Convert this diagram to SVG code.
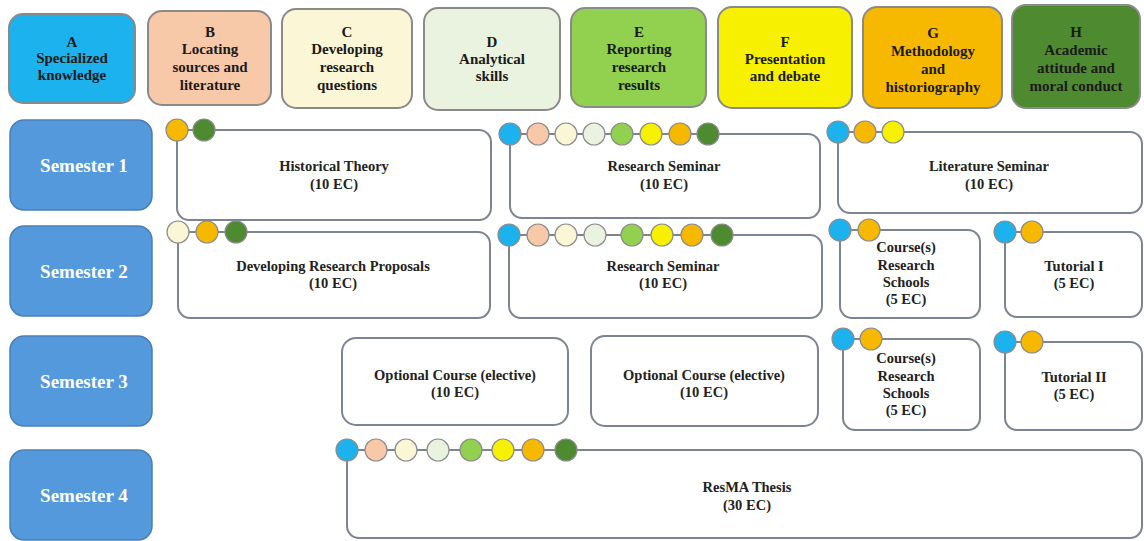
<svg xmlns="http://www.w3.org/2000/svg" width="1144" height="541" viewBox="0 0 1144 541">
<style>
.hdr{stroke:#8a8a8a;stroke-width:2}
.ht{font-family:"Liberation Serif",serif;font-weight:bold;font-size:15px;fill:#1a1a1a;text-anchor:middle}
.sem{fill:#5599dd;stroke:#4a7fb5;stroke-width:1.5}
.st{font-family:"Liberation Serif",serif;font-weight:bold;font-size:19px;fill:#ffffff;text-anchor:middle}
.crs{fill:#ffffff;stroke:#7d8494;stroke-width:2}
.ct{font-family:"Liberation Serif",serif;font-weight:bold;font-size:14.5px;fill:#222222;text-anchor:middle}
.d{stroke:#8c8c8c;stroke-width:1.2}
.cA{fill:#1cb2ee}.cB{fill:#f7c9a9}.cC{fill:#fbf6d5}.cD{fill:#e9f3e0}
.cE{fill:#92d050}.cF{fill:#f7f000}.cG{fill:#f7b900}.cH{fill:#4e8a2f}
</style>
<rect width="1144" height="541" fill="#ffffff"/>

<g id="header-A"><rect class="hdr cA" x="9" y="14" width="126" height="89" rx="14"/>
<text class="ht" x="72" y="47">A</text><text class="ht" x="72" y="63">Specialized</text><text class="ht" x="72" y="80">knowledge</text></g>
<g id="header-B"><rect class="hdr cB" x="148" y="11" width="123" height="94" rx="14"/>
<text class="ht" x="210" y="37">B</text><text class="ht" x="210" y="54">Locating</text><text class="ht" x="210" y="72">sources and</text><text class="ht" x="210" y="90">literature</text></g>
<g id="header-C"><rect class="hdr cC" x="282" y="9" width="130" height="99" rx="14"/>
<text class="ht" x="347" y="37">C</text><text class="ht" x="347" y="54">Developing</text><text class="ht" x="347" y="72">research</text><text class="ht" x="347" y="90">questions</text></g>
<g id="header-D"><rect class="hdr cD" x="424" y="8" width="136" height="102" rx="14"/>
<text class="ht" x="492" y="47">D</text><text class="ht" x="492" y="64">Analytical</text><text class="ht" x="492" y="81">skills</text></g>
<g id="header-E"><rect class="hdr cE" x="571" y="8" width="135" height="99" rx="14"/>
<text class="ht" x="639" y="37">E</text><text class="ht" x="639" y="54">Reporting</text><text class="ht" x="639" y="72">research</text><text class="ht" x="639" y="90">results</text></g>
<g id="header-F"><rect class="hdr cF" x="718" y="7" width="134" height="101" rx="14"/>
<text class="ht" x="785" y="47">F</text><text class="ht" x="785" y="64">Presentation</text><text class="ht" x="785" y="81">and debate</text></g>
<g id="header-G"><rect class="hdr cG" x="863" y="7" width="139" height="101" rx="14"/>
<text class="ht" x="933" y="38">G</text><text class="ht" x="933" y="56">Methodology</text><text class="ht" x="933" y="74">and</text><text class="ht" x="933" y="92">historiography</text></g>
<g id="header-H"><rect class="hdr cH" x="1012" y="5" width="128" height="103" rx="14"/>
<text class="ht" x="1076" y="37">H</text><text class="ht" x="1076" y="55">Academic</text><text class="ht" x="1076" y="73">attitude and</text><text class="ht" x="1076" y="91">moral conduct</text></g>

<g id="semester-1"><rect class="sem" x="10" y="120" width="142" height="90" rx="14"/><text class="st" x="84" y="172">Semester 1</text></g>
<g id="semester-2"><rect class="sem" x="10" y="226" width="142" height="90" rx="14"/><text class="st" x="84" y="278">Semester 2</text></g>
<g id="semester-3"><rect class="sem" x="10" y="336" width="142" height="90" rx="14"/><text class="st" x="84" y="388">Semester 3</text></g>
<g id="semester-4"><rect class="sem" x="10" y="450" width="142" height="90" rx="14"/><text class="st" x="84" y="502">Semester 4</text></g>

<g id="historical-theory"><rect class="crs" x="177" y="130" width="314" height="90" rx="12"/>
<circle class="d cG" cx="177" cy="130" r="11"/><circle class="d cH" cx="204" cy="130" r="11"/>
<text class="ct" x="334" y="171">Historical Theory</text><text class="ct" x="334" y="189">(10 EC)</text></g>

<g id="research-seminar-1"><rect class="crs" x="510" y="134" width="310" height="84" rx="12"/>
<circle class="d cA" cx="510" cy="134" r="11"/><circle class="d cB" cx="538" cy="134" r="11"/><circle class="d cC" cx="566" cy="134" r="11"/><circle class="d cD" cx="594" cy="134" r="11"/><circle class="d cE" cx="622" cy="134" r="11"/><circle class="d cF" cx="651" cy="134" r="11"/><circle class="d cG" cx="680" cy="134" r="11"/><circle class="d cH" cx="708" cy="134" r="11"/>
<text class="ct" x="664" y="171">Research Seminar</text><text class="ct" x="664" y="189">(10 EC)</text></g>

<g id="literature-seminar"><rect class="crs" x="838" y="132" width="304" height="81" rx="12"/>
<circle class="d cA" cx="838" cy="132" r="11"/><circle class="d cG" cx="865" cy="132" r="11"/><circle class="d cF" cx="893" cy="132" r="11"/>
<text class="ct" x="989" y="171">Literature Seminar</text><text class="ct" x="989" y="189">(10 EC)</text></g>

<g id="developing-research-proposals"><rect class="crs" x="178" y="232" width="312" height="86" rx="12"/>
<circle class="d cC" cx="178" cy="232" r="11"/><circle class="d cG" cx="207" cy="232" r="11"/><circle class="d cH" cx="236" cy="232" r="11"/>
<text class="ct" x="333" y="271">Developing Research Proposals</text><text class="ct" x="333" y="288">(10 EC)</text></g>

<g id="research-seminar-2"><rect class="crs" x="509" y="235" width="313" height="83" rx="12"/>
<circle class="d cA" cx="509" cy="235" r="11"/><circle class="d cB" cx="538" cy="235" r="11"/><circle class="d cC" cx="566" cy="235" r="11"/><circle class="d cD" cx="595" cy="235" r="11"/><circle class="d cE" cx="632" cy="235" r="11"/><circle class="d cF" cx="662" cy="235" r="11"/><circle class="d cG" cx="692" cy="235" r="11"/><circle class="d cH" cx="722" cy="235" r="11"/>
<text class="ct" x="663" y="271">Research Seminar</text><text class="ct" x="663" y="288">(10 EC)</text></g>

<g id="research-schools-2"><rect class="crs" x="840" y="230" width="140" height="88" rx="12"/>
<circle class="d cA" cx="840" cy="230" r="11"/><circle class="d cG" cx="869" cy="230" r="11"/>
<text class="ct" x="906" y="252">Course(s)</text><text class="ct" x="906" y="270">Research</text><text class="ct" x="906" y="287">Schools</text><text class="ct" x="906" y="304">(5 EC)</text></g>

<g id="tutorial-1"><rect class="crs" x="1005" y="232" width="137" height="85" rx="12"/>
<circle class="d cA" cx="1005" cy="232" r="11"/><circle class="d cG" cx="1032" cy="232" r="11"/>
<text class="ct" x="1074" y="271">Tutorial I</text><text class="ct" x="1074" y="288">(5 EC)</text></g>

<g id="optional-course-1"><rect class="crs" x="342" y="338" width="226" height="87" rx="14"/>
<text class="ct" x="455" y="380">Optional Course (elective)</text><text class="ct" x="455" y="397">(10 EC)</text></g>

<g id="optional-course-2"><rect class="crs" x="591" y="336" width="227" height="90" rx="14"/>
<text class="ct" x="704" y="380">Optional Course (elective)</text><text class="ct" x="704" y="397">(10 EC)</text></g>

<g id="research-schools-3"><rect class="crs" x="843" y="339" width="137" height="91" rx="12"/>
<circle class="d cA" cx="843" cy="339" r="11"/><circle class="d cG" cx="871" cy="339" r="11"/>
<text class="ct" x="906" y="363">Course(s)</text><text class="ct" x="906" y="381">Research</text><text class="ct" x="906" y="398">Schools</text><text class="ct" x="906" y="415">(5 EC)</text></g>

<g id="tutorial-2"><rect class="crs" x="1005" y="342" width="137" height="88" rx="12"/>
<circle class="d cA" cx="1005" cy="342" r="11"/><circle class="d cG" cx="1032" cy="342" r="11"/>
<text class="ct" x="1074" y="382">Tutorial II</text><text class="ct" x="1074" y="399">(5 EC)</text></g>

<g id="resma-thesis"><rect class="crs" x="347" y="450" width="795" height="88" rx="12"/>
<circle class="d cA" cx="347" cy="450" r="11"/><circle class="d cB" cx="376" cy="450" r="11"/><circle class="d cC" cx="406" cy="450" r="11"/><circle class="d cD" cx="438" cy="450" r="11"/><circle class="d cE" cx="471" cy="450" r="11"/><circle class="d cF" cx="503" cy="450" r="11"/><circle class="d cG" cx="533" cy="450" r="11"/><circle class="d cH" cx="566" cy="450" r="11"/>
<text class="ct" x="747" y="492">ResMA Thesis</text><text class="ct" x="747" y="510">(30 EC)</text></g>
</svg>
